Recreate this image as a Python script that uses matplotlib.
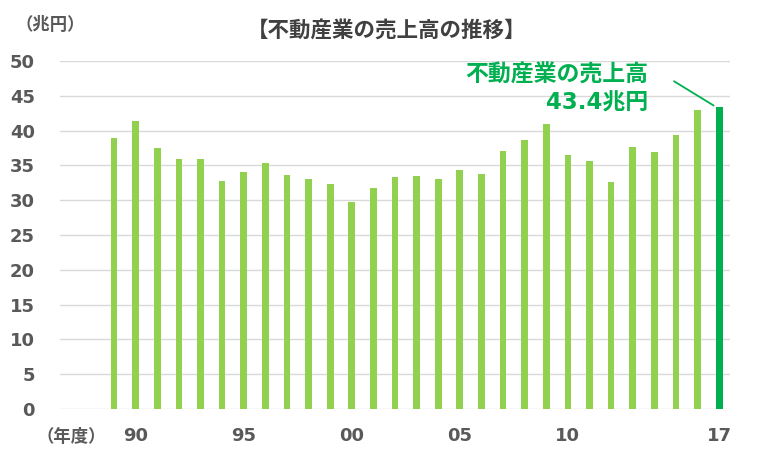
import matplotlib
matplotlib.use("Agg")
import matplotlib.pyplot as plt

plt.rcParams['font.family'] = ['DejaVu Sans', 'Noto Sans CJK JP']

years = list(range(1989, 2018))
sales = [39.0, 41.4, 37.5, 35.9, 35.9, 32.8, 34.0, 35.3, 33.6, 33.0, 32.3, 29.8, 31.8,
         33.4, 33.5, 33.1, 34.4, 33.8, 37.0, 38.6, 40.9, 36.5, 35.6, 32.6, 37.6, 36.9,
         39.3, 42.9, 43.4]
tick_years = [1990, 1995, 2000, 2005, 2010, 2017]
tick_labels = ["90", "95", "00", "05", "10", "17"]
y_ticks = [0, 5, 10, 15, 20, 25, 30, 35, 40, 45, 50]

title = "【不動産業の売上高の推移】"
unit_label = "（兆円）"
year_label = "（年度）"
note1 = "不動産業の売上高"
note2 = "43.4兆円"

light = "#92D050"
dark = "#00B050"
gray = "#595959"

fig = plt.figure(figsize=(7.68, 4.59), dpi=100)
ax = fig.add_axes([60/768, 1-409/459, 670/768, 348/459])

idx = list(range(len(years)))
colors = [light]*(len(years)-1) + [dark]
ax.bar(idx, sales, width=0.31, color=colors, zorder=3)

ax.set_ylim(0, 50)
ax.set_xlim(-2.5, len(years) - 0.5)
ax.set_yticks(y_ticks)
ax.yaxis.grid(True, color="#D9D9D9", linewidth=1.0, zorder=0)
ax.set_axisbelow(True)
for s in ax.spines.values():
    s.set_visible(False)
ax.tick_params(axis='both', length=0)
ax.tick_params(axis='y', pad=18)
ax.tick_params(axis='x', pad=13)
ax.set_yticklabels([str(v) for v in y_ticks], fontsize=13, fontweight='bold', color=gray,
                   family='DejaVu Sans')
ax.set_xticks([years.index(y) for y in tick_years])
ax.set_xticklabels(tick_labels, fontsize=13, fontweight='bold', color=gray, family='DejaVu Sans')

cjk = ['Noto Sans CJK JP', 'DejaVu Sans']
fig.text(387/768, 1-30/459, title, ha='center', va='center', fontsize=15.5,
         fontweight='bold', color="#404040", family=cjk)
fig.text(50/768, 1-25/459, unit_label, ha='center', va='center', fontsize=12.5,
         fontweight='bold', color=gray, family=cjk)
fig.text(71/768, 1-437/459, year_label, ha='center', va='center', fontsize=12.5,
         fontweight='bold', color=gray, family=cjk)

last = len(years) - 1
ax.annotate("", xy=(last - 0.15, sales[-1]), xytext=(last - 2.2, sales[-1] + 3.9),
            arrowprops=dict(arrowstyle='-', color=dark, lw=1.3))
ax.text(24.7, 48.0, note1, ha='right', va='center', fontsize=16.5, fontweight='bold',
        color=dark, family=cjk)
ax.text(24.7, 44.0, note2, ha='right', va='center', fontsize=16.5, fontweight='bold',
        color=dark, family=['DejaVu Sans', 'Noto Sans CJK JP'])

fig.savefig("out.png", dpi=100)
